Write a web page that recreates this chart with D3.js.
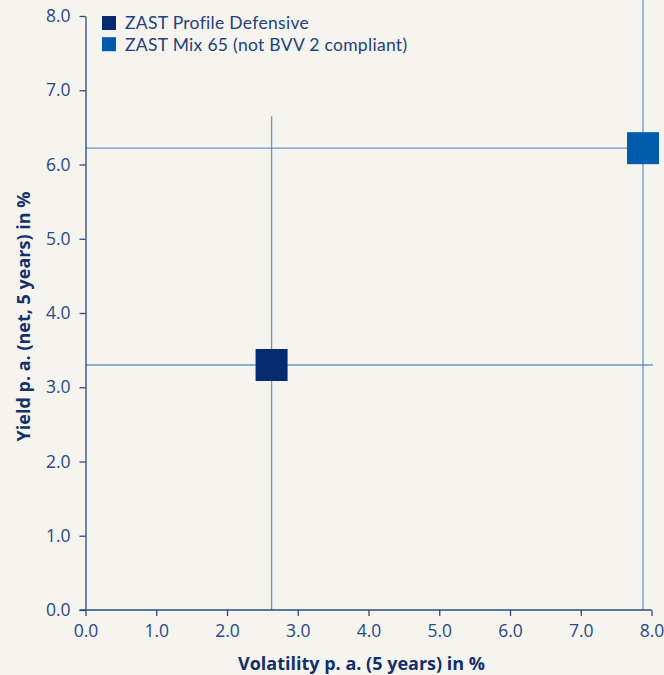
<!DOCTYPE html>
<meta charset="utf-8">
<style>
body {
  margin: 0;
  background: #f5f4ee;
  font-family: 'Open Sans', sans-serif;
}
svg { display: block; }
.axis path, .axis line { stroke: #2c4a80; stroke-width: 1.3px; }
.axis text { fill: #2a4885; font-size: 17.5px; font-family: 'Open Sans', sans-serif; }
.title { fill: #13306b; font-size: 18px; font-weight: bold; }
.legend text { fill: #23417f; font-size: 17.5px; font-family: Lato, sans-serif; letter-spacing: 0.3px; }
.cross { stroke: #4a80c0; stroke-width: 1.3px; opacity: .8; }
</style>
<body>
<script src="https://d3js.org/d3.v7.min.js"></script>
<script>

var series = ["ZAST Profile Defensive", "ZAST Mix 65 (not BVV 2 compliant)"];
var volatility = [2.63, 7.88];
var yieldValues = [3.30, 6.22];
var colors = ["#052a6e", "#005bac"];
// how far the guide lines run, in data units
var vLineTop = [6.65, 8.22];
var hLineEnd = [8.02, 7.88];
var ticks = [0, 1, 2, 3, 4, 5, 6, 7, 8];

var width = 664, height = 675;
var margin = {top: 16, right: 12.5, bottom: 65, left: 85.5};

var svg = d3.select("body").append("svg")
    .attr("width", width)
    .attr("height", height);

var x = d3.scaleLinear().domain([0, 8]).range([margin.left, width - margin.right]);
var y = d3.scaleLinear().domain([0, 8]).range([height - margin.bottom, margin.top]);

// guide lines
var guides = svg.append("g");
series.forEach(function(s, i) {
    guides.append("line").attr("class", "cross")
        .attr("x1", x(volatility[i])).attr("x2", x(volatility[i]))
        .attr("y1", y(0)).attr("y2", y(vLineTop[i]));
    guides.append("line").attr("class", "cross")
        .attr("x1", x(0)).attr("x2", x(hLineEnd[i]))
        .attr("y1", y(yieldValues[i])).attr("y2", y(yieldValues[i]));
});

svg.append("g").attr("class", "axis")
    .attr("transform", "translate(0," + y(0) + ")")
    .call(d3.axisBottom(x).tickValues(ticks).tickFormat(d3.format(".1f")).tickSize(6).tickSizeOuter(0).tickPadding(9))
    .call(function(g) { g.select(".domain").attr("d", "M" + (x(0) - 6) + ",0H" + x(8)); });

svg.append("g").attr("class", "axis")
    .attr("transform", "translate(" + x(0) + ",0)")
    .call(d3.axisLeft(y).tickValues(ticks).tickFormat(d3.format(".1f")).tickSize(6).tickSizeOuter(0).tickPadding(9));

// points
var size = 32;
svg.append("g").selectAll("rect")
    .data(series)
    .join("rect")
    .attr("x", function(d, i) { return x(volatility[i]) - size / 2; })
    .attr("y", function(d, i) { return y(yieldValues[i]) - size / 2; })
    .attr("width", size)
    .attr("height", size)
    .attr("fill", function(d, i) { return colors[i]; });

// axis titles
svg.append("text").attr("class", "title")
    .attr("x", 361.5)
    .attr("y", 669.5)
    .attr("text-anchor", "middle")
    .text("Volatility p. a. (5 years) in %");

svg.append("text").attr("class", "title")
    .attr("transform", "translate(30,316.5) rotate(-90)")
    .attr("text-anchor", "middle")
    .text("Yield p. a. (net, 5 years) in %");

// legend
var legend = svg.append("g").attr("class", "legend")
    .selectAll("g")
    .data(series)
    .join("g")
    .attr("transform", function(d, i) { return "translate(102," + (16 + i * 21.2) + ")"; });

legend.append("rect")
    .attr("width", 14).attr("height", 14)
    .attr("fill", function(d, i) { return colors[i]; });

legend.append("text")
    .attr("x", 23).attr("y", 13.3)
    .text(function(d) { return d; });

</script>
</body>
